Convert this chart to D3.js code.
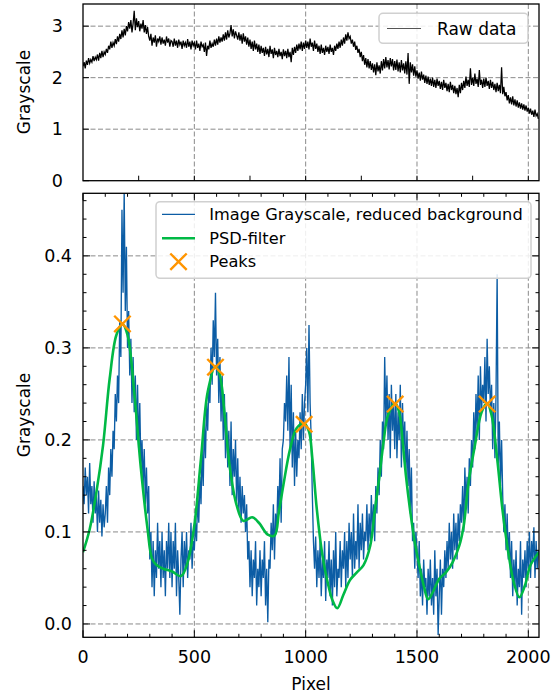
<!DOCTYPE html>
<html><head><meta charset="utf-8">
<script src="https://cdn.jsdelivr.net/npm/d3@7"></script>
<style>body{margin:0;background:#fff} text{font-family:"DejaVu Sans",sans-serif;fill:#000}</style>
</head><body>
<svg id="c" width="553" height="697"></svg>
<script>
// ---------------- data ----------------
const sampleStep = 5; // pixel spacing of the sampled series
const rawData = [
 2.22,2.30,2.18,2.33,2.25,2.38,2.28,2.35,2.30,2.42,2.32,2.40,2.35,2.45,2.33,2.48,2.38,2.52,2.40,2.50,
 2.45,2.56,2.48,2.62,2.55,2.70,2.58,2.68,2.62,2.75,2.65,2.80,2.70,2.85,2.75,2.92,2.78,2.95,2.82,3.00,
 2.90,3.08,2.95,3.12,2.88,3.05,3.30,2.92,3.15,2.98,3.10,2.90,3.05,2.95,3.12,2.88,3.02,2.85,2.98,2.80,
 2.72,2.85,2.62,2.78,2.68,2.82,2.60,2.76,2.70,2.80,2.64,2.78,2.66,2.74,2.62,2.80,2.68,2.76,2.60,2.72,
 2.70,2.60,2.76,2.62,2.72,2.58,2.74,2.64,2.70,2.56,2.72,2.62,2.68,2.58,2.75,2.60,2.70,2.55,2.72,2.62,
 2.68,2.55,2.72,2.58,2.66,2.52,2.70,2.60,2.64,2.50,2.68,2.42,2.62,2.55,2.72,2.58,2.66,2.60,2.74,2.62,
 2.76,2.64,2.80,2.68,2.78,2.70,2.84,2.72,2.88,2.74,2.92,2.78,2.86,3.02,2.80,2.94,2.76,2.90,2.82,2.74,
 2.88,2.72,2.84,2.66,2.86,2.70,2.80,2.64,2.78,2.60,2.74,2.56,2.70,2.52,2.72,2.55,2.66,2.50,2.64,2.46,
 2.62,2.48,2.58,2.42,2.60,2.45,2.56,2.40,2.62,2.46,2.55,2.38,2.58,2.44,2.52,2.40,2.56,2.42,2.50,2.36,
 2.55,2.42,2.52,2.38,2.56,2.40,2.50,2.30,2.58,2.44,2.60,2.48,2.64,2.52,2.66,2.55,2.70,2.52,2.68,2.56,
 2.72,2.58,2.70,2.55,2.76,2.60,2.68,2.52,2.72,2.56,2.66,2.50,2.62,2.46,2.64,2.48,2.58,2.44,2.62,2.50,
 2.60,2.46,2.64,2.50,2.58,2.44,2.62,2.52,2.66,2.56,2.70,2.58,2.74,2.62,2.78,2.66,2.84,2.72,2.88,2.76,
 2.80,2.66,2.74,2.60,2.70,2.54,2.62,2.48,2.56,2.40,2.50,2.32,2.44,2.25,2.38,2.20,2.36,2.18,2.32,2.15,
 2.28,2.10,2.26,2.05,2.30,2.12,2.24,2.08,2.32,2.14,2.36,2.18,2.40,2.20,2.34,2.16,2.38,2.22,2.36,2.14,
 2.32,2.15,2.35,2.12,2.30,2.10,2.34,2.14,2.28,2.08,2.32,2.06,2.48,1.88,2.30,2.10,2.26,2.04,2.22,2.02,
 2.14,1.98,2.10,1.94,2.12,1.96,2.06,1.90,2.04,1.88,2.02,1.86,1.98,1.84,2.00,1.82,1.96,1.80,1.98,1.84,
 1.94,1.78,1.92,1.76,1.96,1.80,1.90,1.74,1.88,1.72,1.92,1.76,1.86,1.70,1.84,1.68,1.80,1.62,1.86,1.70,
 1.90,1.76,1.94,1.80,2.02,1.84,1.96,1.82,2.18,1.86,2.00,1.84,2.08,1.88,1.98,1.82,2.15,1.86,1.96,1.80,
 1.98,1.82,2.00,1.84,1.94,1.78,1.96,1.80,1.92,1.76,1.88,1.72,1.90,1.74,1.86,1.70,2.20,1.68,1.82,1.64,
 1.72,1.56,1.66,1.50,1.62,1.48,1.64,1.46,1.58,1.44,1.56,1.42,1.52,1.40,1.50,1.38,1.48,1.36,1.46,1.34,
 1.42,1.30,1.40,1.28,1.36,1.24,1.38,1.26,1.30,1.20
];
const reducedData = [
 0.15,0.13,0.17,0.14,0.16,0.12,0.175,0.13,0.15,0.11,0.155,0.12,0.14,0.10,0.145,0.11,0.135,0.095,0.13,0.105,
 0.12,0.15,0.11,0.17,0.14,0.19,0.16,0.21,0.19,0.25,0.22,0.27,0.24,0.33,0.29,0.45,0.36,0.47,0.34,0.41,
 0.30,0.34,0.27,0.31,0.24,0.29,0.23,0.27,0.20,0.26,0.19,0.24,0.17,0.20,0.15,0.19,0.13,0.17,0.12,0.15,
 0.07,0.10,0.04,0.09,0.03,0.08,0.05,0.11,0.06,0.09,0.04,0.10,0.05,0.08,0.03,0.09,0.06,0.11,0.05,0.10,
 0.04,0.09,0.06,0.11,0.03,0.08,0.05,0.01,0.07,0.10,0.04,0.09,0.06,0.10,0.05,0.08,0.07,0.11,0.06,0.09,
 0.08,0.11,0.09,0.14,0.11,0.16,0.13,0.19,0.15,0.22,0.18,0.24,0.21,0.26,0.24,0.30,0.26,0.33,0.29,0.36,
 0.27,0.31,0.24,0.29,0.22,0.27,0.20,0.25,0.18,0.23,0.17,0.21,0.15,0.22,0.14,0.19,0.16,0.20,0.13,0.18,
 0.12,0.16,0.11,0.15,0.12,0.14,0.10,0.13,0.07,0.09,0.04,0.08,0.03,0.07,0.05,0.09,0.02,0.06,0.04,0.08,
 0.03,0.07,0.05,0.09,0.02,0.06,0.002,0.07,0.06,0.11,0.08,0.13,0.07,0.12,0.10,0.15,0.12,0.18,0.11,0.19,
 0.20,0.24,0.22,0.27,0.21,0.29,0.19,0.26,0.17,0.23,0.15,0.21,0.16,0.20,0.18,0.23,0.19,0.25,0.20,0.24,
 0.26,0.30,0.23,0.325,0.24,0.20,0.14,0.09,0.06,0.095,0.04,0.08,0.05,0.09,0.03,0.07,0.05,0.09,0.025,0.07,
 0.05,0.09,0.03,0.07,0.02,0.08,0.04,0.10,0.03,0.06,0.05,0.09,0.04,0.08,0.06,0.10,0.04,0.09,0.05,0.11,
 0.07,0.10,0.05,0.12,0.06,0.09,0.07,0.13,0.06,0.11,0.08,0.12,0.07,0.10,0.09,0.13,0.08,0.12,0.09,0.14,
 0.10,0.13,0.09,0.15,0.12,0.17,0.14,0.20,0.16,0.22,0.19,0.29,0.22,0.27,0.20,0.25,0.18,0.26,0.21,0.24,
 0.19,0.25,0.18,0.23,0.20,0.26,0.17,0.24,0.19,0.22,0.16,0.21,0.15,0.19,0.12,0.17,0.09,0.11,0.06,0.10,
 0.08,0.05,0.09,0.03,0.06,0.02,0.07,0.04,0.05,0.01,0.06,0.03,0.07,0.02,0.05,0.01,0.08,0.03,0.06,-0.012,
 0.03,0.07,0.01,0.06,0.04,0.08,0.05,0.09,0.06,0.11,0.07,0.10,0.06,0.12,0.08,0.11,0.07,0.12,0.09,0.13,
 0.11,0.15,0.10,0.17,0.13,0.16,0.12,0.18,0.15,0.20,0.17,0.23,0.19,0.25,0.21,0.27,0.20,0.28,0.23,0.26,
 0.24,0.29,0.22,0.31,0.25,0.28,0.23,0.26,0.19,0.24,0.18,0.25,0.38,0.17,0.22,0.15,0.20,0.14,0.10,0.13,
 0.08,0.12,0.07,0.10,0.05,0.09,0.03,0.07,0.04,0.08,0.02,0.06,0.04,0.09,0.01,0.07,0.05,0.08,0.04,0.09,
 0.06,0.10,0.05,0.09,0.07,0.105,0.05,0.09,0.06,0.08
];
const psdX = [0,30,60,90,120,150,177,200,230,260,290,310,330,360,400,440,470,500,530,560,595,615,635,660,690,720,760,790,830,860,880,900,930,960,993,1015,1030,1050,1075,1100,1120,1142,1170,1200,1230,1260,1290,1310,1330,1350,1370,1402,1420,1435,1450,1470,1490,1510,1530,1550,1570,1600,1630,1660,1690,1710,1730,1760,1790,1815,1835,1860,1885,1910,1935,1960,1985,2010,2048];
const psdY = [0.078,0.103,0.143,0.194,0.267,0.314,0.326,0.314,0.252,0.169,0.103,0.071,0.064,0.060,0.057,0.052,0.067,0.107,0.180,0.252,0.280,0.270,0.230,0.169,0.129,0.112,0.116,0.110,0.097,0.096,0.122,0.151,0.190,0.213,0.218,0.209,0.180,0.125,0.075,0.044,0.026,0.017,0.032,0.048,0.056,0.064,0.085,0.122,0.158,0.198,0.227,0.240,0.230,0.200,0.162,0.122,0.089,0.064,0.042,0.027,0.034,0.049,0.056,0.067,0.085,0.107,0.151,0.194,0.230,0.240,0.227,0.180,0.122,0.078,0.045,0.029,0.042,0.064,0.078];
const peakX = [177,595,993,1402,1815];
const peakY = [0.326,0.279,0.217,0.239,0.239];
const xTicks = [0,500,1000,1500,2000];
const topYTicks = [0,1,2,3];
const botYTicks = [0,0.1,0.2,0.3,0.4];
const legendBottom = ["Image Grayscale, reduced background","PSD-filter","Peaks"];
const legendTop = ["Raw data"];

// ---------------- layout ----------------
const svg = d3.select("#c");
const L = 83, R = 539;
const topP = {t:4, b:180.7};
const botP = {t:193.3, b:637.3};
const blue = "#0C5DA5", green = "#00B945", orange = "#FF9500";

const x = d3.scaleLinear().domain([0,2048]).range([L,R]);
const yTop = d3.scaleLinear().domain([0,3.43]).range([topP.b, topP.t]);
const yBot = d3.scaleLinear().domain([-0.0145,0.468]).range([botP.b, botP.t]);
const pixT = d3.range(0, rawData.length).map(i => i*sampleStep);
const pixB = d3.range(0, reducedData.length).map(i => i*sampleStep);

const defs = svg.append("defs");
defs.append("clipPath").attr("id","clipT").append("rect").attr("x",L).attr("y",topP.t).attr("width",R-L).attr("height",topP.b-topP.t);
defs.append("clipPath").attr("id","clipB").append("rect").attr("x",L).attr("y",botP.t).attr("width",R-L).attr("height",botP.b-botP.t);

function grid(g, y, yt, p){
  g.selectAll(".gx").data(xTicks.filter(d=>d>0)).join("line")
    .attr("x1",d=>x(d)).attr("x2",d=>x(d)).attr("y1",p.t).attr("y2",p.b)
    .attr("stroke","#8a8a8a").attr("stroke-width",1).attr("stroke-dasharray","5,2.5");
  g.selectAll(".gy").data(yt).join("line")
    .attr("x1",L).attr("x2",R).attr("y1",d=>y(d)).attr("y2",d=>y(d))
    .attr("stroke","#8a8a8a").attr("stroke-width",1).attr("stroke-dasharray","5,2.5");
}

// ----- top panel -----
const gT = svg.append("g");
grid(gT.append("g"), yTop, topYTicks.filter(d=>d>0), topP);
gT.append("path").attr("clip-path","url(#clipT)")
  .datum(rawData).attr("fill","none").attr("stroke","#000").attr("stroke-width",1.25)
  .attr("d", d3.line().x((d,i)=>x(pixT[i])).y(d=>yTop(d)));
const tickT = gT.append("g").attr("stroke","#000").attr("stroke-width",1);
tickT.selectAll("line.mx").data(d3.range(250,2048,250)).join("line")
  .attr("x1",d=>x(d)).attr("x2",d=>x(d)).attr("y1",topP.b).attr("y2",topP.b-5);
tickT.selectAll("line.my").data(topYTicks).join("line")
  .attr("x1",L).attr("x2",L+6).attr("y1",d=>yTop(d)).attr("y2",d=>yTop(d));
gT.append("rect").attr("x",L).attr("y",topP.t).attr("width",R-L).attr("height",topP.b-topP.t)
  .attr("fill","none").attr("stroke","#000").attr("stroke-width",1.3);
gT.selectAll("text.yl").data(topYTicks).join("text")
  .attr("x",63).attr("y",d=>yTop(d)).attr("text-anchor","end").attr("dominant-baseline","central")
  .attr("font-size",17.5).text(d=>d3.format("d")(d));
gT.append("text").attr("transform","translate(30,92) rotate(-90)").attr("text-anchor","middle")
  .attr("font-size",17).text("Grayscale");
const lgT = gT.append("g");
lgT.append("rect").attr("x",379).attr("y",13.3).attr("width",149).attr("height",30).attr("rx",4)
  .attr("fill","#fff").attr("fill-opacity",0.85).attr("stroke","#d0d0d0").attr("stroke-width",1.5);
lgT.append("line").attr("x1",387).attr("x2",421).attr("y1",28.5).attr("y2",28.5).attr("stroke","#555").attr("stroke-width",1);
lgT.append("text").attr("x",437).attr("y",28.5).attr("dominant-baseline","central").attr("font-size",17).text(legendTop[0]);

// ----- bottom panel -----
const gB = svg.append("g");
grid(gB.append("g"), yBot, botYTicks, botP);
const cB = gB.append("g").attr("clip-path","url(#clipB)");
cB.append("path").datum(reducedData).attr("fill","none").attr("stroke",blue).attr("stroke-width",1.35)
  .attr("d", d3.line().x((d,i)=>x(pixB[i])).y(d=>yBot(d)));
cB.append("path").datum(psdX).attr("fill","none").attr("stroke",green).attr("stroke-width",2.6)
  .attr("d", d3.line().x(d=>x(d)).y((d,i)=>yBot(psdY[i])).curve(d3.curveCatmullRom));
const mk = 8.2;
const xPath = (cx,cy)=>`M${cx-mk},${cy-mk}L${cx+mk},${cy+mk}M${cx-mk},${cy+mk}L${cx+mk},${cy-mk}`;
cB.selectAll("path.pk").data(peakX).join("path")
  .attr("d",(d,i)=>xPath(x(d), yBot(peakY[i])))
  .attr("stroke",orange).attr("stroke-width",2.4).attr("fill","none");

const tickB = gB.append("g").attr("stroke","#000").attr("stroke-width",1);
const xMin = d3.range(0,2048,100), yMin = d3.range(0,0.47,0.02);
[botP.b, botP.t].forEach((yy,k)=>{
  const s = k===0?-1:1;
  tickB.append("g").selectAll("line").data(xMin).join("line")
    .attr("x1",d=>x(d)).attr("x2",d=>x(d)).attr("y1",yy).attr("y2",d=>yy+s*(d%500===0?7:3.5));
});
[L, R].forEach((xx,k)=>{
  const s = k===0?1:-1;
  tickB.append("g").selectAll("line").data(yMin).join("line")
    .attr("x1",xx).attr("x2",(d,i)=>xx+s*(i%5===0?7:3.5)).attr("y1",d=>yBot(d)).attr("y2",d=>yBot(d));
});
const lgB = gB.append("g");
lgB.append("rect").attr("x",156).attr("y",201.7).attr("width",375).attr("height",76.6).attr("rx",4)
  .attr("fill","#fff").attr("fill-opacity",0.85).attr("stroke","#d0d0d0").attr("stroke-width",1.5);
const rowsY = [214.3,238.3,261.7];
lgB.append("line").attr("x1",162).attr("x2",195).attr("y1",rowsY[0]).attr("y2",rowsY[0]).attr("stroke",blue).attr("stroke-width",1.2);
lgB.append("line").attr("x1",162).attr("x2",195).attr("y1",rowsY[1]).attr("y2",rowsY[1]).attr("stroke",green).attr("stroke-width",2.6);
lgB.append("path").attr("d",xPath(178.5,rowsY[2])).attr("stroke",orange).attr("stroke-width",2.4);
lgB.selectAll("text").data(legendBottom).join("text")
  .attr("x",209.3).attr("y",(d,i)=>rowsY[i]).attr("dominant-baseline","central").attr("font-size",16.2).text(d=>d);

gB.append("rect").attr("x",L).attr("y",botP.t).attr("width",R-L).attr("height",botP.b-botP.t)
  .attr("fill","none").attr("stroke","#000").attr("stroke-width",1.3);
gB.selectAll("text.yl").data(botYTicks).join("text")
  .attr("x",72).attr("y",d=>yBot(d)).attr("text-anchor","end").attr("dominant-baseline","central")
  .attr("font-size",17.5).text(d=>d3.format(".1f")(d));
gB.selectAll("text.xl").data(xTicks).join("text")
  .attr("x",d=>x(d)).attr("y",663).attr("text-anchor","middle")
  .attr("font-size",17.5).text(d=>d);
gB.append("text").attr("x",311).attr("y",690).attr("text-anchor","middle").attr("font-size",17).text("Pixel");
gB.append("text").attr("transform","translate(30,415) rotate(-90)").attr("text-anchor","middle")
  .attr("font-size",17).text("Grayscale");
</script>
</body></html>
